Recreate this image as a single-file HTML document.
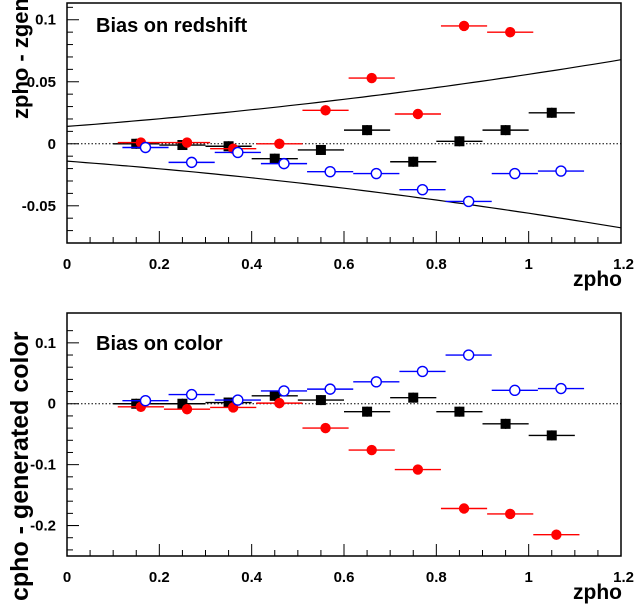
<!DOCTYPE html>
<html><head><meta charset="utf-8"><style>
body{margin:0;background:#fff}
svg{display:block;font-family:"Liberation Sans",Arial,sans-serif;font-weight:bold}
</style></head><body>
<svg id="c" width="634" height="604" viewBox="0 0 634 604"></svg>
<script>
const xsBlack=[0.15,0.25,0.35,0.45,0.55,0.65,0.75,0.85,0.95,1.05];
const xsRed=[0.16,0.26,0.36,0.46,0.56,0.66,0.76,0.86,0.96,1.06];
const xsBlue=[0.17,0.27,0.37,0.47,0.57,0.67,0.77,0.87,0.97,1.07];
const zBlack=[0,-0.001,-0.002,-0.012,-0.005,0.011,-0.0145,0.002,0.011,0.025];
const zRed=[0.001,0.001,-0.004,0,0.027,0.053,0.024,0.095,0.09];
const zBlue=[-0.003,-0.015,-0.007,-0.016,-0.0225,-0.024,-0.037,-0.0465,-0.024,-0.022];
const cBlack=[0,0,0.002,0.013,0.006,-0.013,0.01,-0.013,-0.033,-0.052];
const cRed=[-0.005,-0.009,-0.006,0.001,-0.040,-0.076,-0.108,-0.172,-0.181,-0.215];
const cBlue=[0.005,0.015,0.006,0.021,0.024,0.036,0.053,0.080,0.022,0.025];
const xTicks=[0,0.2,0.4,0.6,0.8,1,1.2];
const zTicks=[-0.05,0,0.05,0.1];
const cTicks=[-0.2,-0.1,0,0.1];

const NS="http://www.w3.org/2000/svg";
const svg=document.getElementById('c');
function mk(tag,attrs,parent){const e=document.createElementNS(NS,tag);for(const k in attrs)e.setAttribute(k,attrs[k]);(parent||svg).appendChild(e);return e;}
const X0=67,X1=621;
const sx=v=>X0+(v/1.2)*(X1-X0);

function panel(p){
  const g=mk('g',{});
  
  
  const sy=v=>p.top+(p.ymax-v)/(p.ymax-p.ymin)*(p.bot-p.top);
  const z=mk('line',{x1:X0,x2:X1,y1:sy(0),y2:sy(0),stroke:'#000','stroke-width':1,'stroke-dasharray':'1.5,2'},g);
  
  
  if(p.env){
    for(const s of [1,-1]){
      let d='';
      for(let i=0;i<=60;i++){const v=1.2*i/60;d+=(i?'L':'M')+sx(v).toFixed(1)+','+sy(s*0.014*(1+v)*(1+v)).toFixed(1);}
      const c=mk('path',{d:d,fill:'none',stroke:'#000','stroke-width':1.2},g);
      
      
    }
  }
  const series=[
    {xs:xsBlack,ys:p.black,col:'#000',shape:'sq',n:'black-series'},
    {xs:xsRed,ys:p.red,col:'#f00',shape:'dot',n:'red-series'},
    {xs:xsBlue,ys:p.blue,col:'#00f',shape:'open',n:'blue-series'}];
  for(const s of series){
    const sg=mk('g',{},g);
    
    
    s.ys.forEach((v,i)=>{
      const cx=sx(s.xs[i]),cy=sy(v);
      mk('line',{x1:sx(s.xs[i]-0.05),x2:sx(s.xs[i]+0.05),y1:cy,y2:cy,stroke:s.col,'stroke-width':1.4},sg);
      mk('line',{x1:cx,x2:cx,y1:cy-5,y2:cy+5,stroke:s.col,'stroke-width':1.4},sg);
      let m;
      if(s.shape==='sq')m=mk('rect',{x:cx-5,y:cy-5,width:10,height:10,fill:'#000'},sg);
      else if(s.shape==='dot')m=mk('circle',{cx:cx,cy:cy,r:5.2,fill:'#f00'},sg);
      else m=mk('circle',{cx:cx,cy:cy,r:5,fill:'#fff',stroke:'#00f','stroke-width':1.4},sg);
      
      
    });
  }
  const f=mk('rect',{x:X0,y:p.top,width:X1-X0,height:p.bot-p.top,fill:'none',stroke:'#000','stroke-width':1.5},g);
  
  
  for(let k=0;k<=24;k++){const v=k*0.05;const maj=k%4===0;
    mk('line',{x1:sx(v),x2:sx(v),y1:p.bot,y2:p.bot-(maj?12:6),stroke:'#000','stroke-width':1},g);}
  xTicks.forEach(v=>{const t=mk('text',{x:sx(v),y:p.bot+26,'font-size':15,'text-anchor':v===1.2?'end':'middle'},g);t.textContent=String(v);
    if(v===1.2)t.setAttribute('x',634);
    });
  for(let v=p.ymin;v<=p.ymax+1e-9;v+=p.minor){const vv=Math.round(v/p.minor)*p.minor;const maj=Math.abs(vv/p.major-Math.round(vv/p.major))<1e-6;
    mk('line',{x1:X0,x2:X0+(maj?12:6),y1:sy(vv),y2:sy(vv),stroke:'#000','stroke-width':1},g);}
  p.ticks.forEach(v=>{const t=mk('text',{x:X0-11,y:sy(v)+5,'font-size':15,'text-anchor':'end'},g);t.textContent=String(v);
    });
  const xt=mk('text',{x:622,y:p.bot+43,'font-size':21,'text-anchor':'end'},g);xt.textContent='zpho';
  
  const yt=mk('text',{x:0,y:0,'font-size':p.ytitleSize,'text-anchor':'start',transform:`translate(28,${p.ytitleY}) rotate(-90)`},g);yt.textContent=p.ytitle;
  
  const tt=mk('text',{x:96,y:p.titleY,'font-size':20},g);tt.textContent=p.title;
  
}
panel({name:'redshift-panel',top:3,bot:243,ymin:-0.08,ymax:0.1135,minor:0.01,major:0.05,ticks:zTicks,
  black:zBlack,red:zRed,blue:zBlue,env:true,ytitle:'zpho - zgen',ytitleY:119,ytitleSize:22,title:'Bias on redshift',titleY:32});
panel({name:'color-panel',top:313,bot:556,ymin:-0.25,ymax:0.149,minor:0.02,major:0.1,ticks:cTicks,
  black:cBlack,red:cRed,blue:cBlue,env:false,ytitle:'cpho - generated color',ytitleY:601,ytitleSize:25,title:'Bias on color',titleY:350});
</script>
</body></html>
